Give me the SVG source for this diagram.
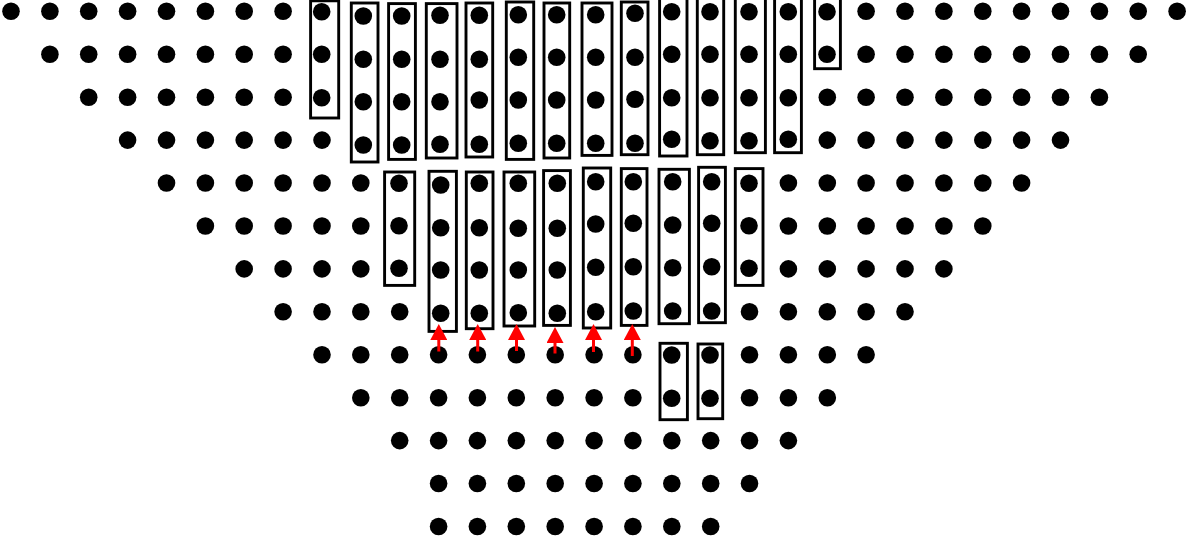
<svg xmlns="http://www.w3.org/2000/svg" width="1188" height="541" viewBox="0 0 1188 541">
<style>
.d{fill:#000}
.b{fill:none;stroke:#000;stroke-width:2.9}
.a{stroke:#ff0000;stroke-width:3;fill:none;marker-end:url(#ah)}
</style>
<defs>
<marker id="ah" markerUnits="userSpaceOnUse" markerWidth="16" markerHeight="17" viewBox="0 0 16 17" refX="1" refY="8.5" orient="auto"><path d="M0,0 L16,8.5 L0,17 z" fill="#ff0000"/></marker>
</defs>
<rect width="1188" height="541" fill="#fff"/>
<g id="grid-dots">
<!-- row 0 -->
<circle class="d" r="8.8" cx="11" cy="11.3"/><circle class="d" r="8.8" cx="49.9" cy="11.3"/><circle class="d" r="8.8" cx="88.7" cy="11.3"/><circle class="d" r="8.8" cx="127.6" cy="11.3"/><circle class="d" r="8.8" cx="166.5" cy="11.3"/><circle class="d" r="8.8" cx="205.4" cy="11.3"/><circle class="d" r="8.8" cx="244.2" cy="11.3"/><circle class="d" r="8.8" cx="283.1" cy="11.3"/>
<circle class="d" r="8.8" cx="866.1" cy="11.3"/><circle class="d" r="8.8" cx="905" cy="11.3"/><circle class="d" r="8.8" cx="943.9" cy="11.3"/><circle class="d" r="8.8" cx="982.8" cy="11.3"/><circle class="d" r="8.8" cx="1021.6" cy="11.3"/><circle class="d" r="8.8" cx="1060.5" cy="11.3"/><circle class="d" r="8.8" cx="1099.4" cy="11.3"/><circle class="d" r="8.8" cx="1138.2" cy="11.3"/><circle class="d" r="8.8" cx="1177.1" cy="11.3"/>
<!-- row 1 -->
<circle class="d" r="8.8" cx="49.9" cy="54.2"/><circle class="d" r="8.8" cx="88.7" cy="54.2"/><circle class="d" r="8.8" cx="127.6" cy="54.2"/><circle class="d" r="8.8" cx="166.5" cy="54.2"/><circle class="d" r="8.8" cx="205.4" cy="54.2"/><circle class="d" r="8.8" cx="244.2" cy="54.2"/><circle class="d" r="8.8" cx="283.1" cy="54.2"/>
<circle class="d" r="8.8" cx="866.1" cy="54.2"/><circle class="d" r="8.8" cx="905" cy="54.2"/><circle class="d" r="8.8" cx="943.9" cy="54.2"/><circle class="d" r="8.8" cx="982.8" cy="54.2"/><circle class="d" r="8.8" cx="1021.6" cy="54.2"/><circle class="d" r="8.8" cx="1060.5" cy="54.2"/><circle class="d" r="8.8" cx="1099.4" cy="54.2"/><circle class="d" r="8.8" cx="1138.2" cy="54.2"/>
<!-- row 2 -->
<circle class="d" r="8.8" cx="88.7" cy="97.2"/><circle class="d" r="8.8" cx="127.6" cy="97.2"/><circle class="d" r="8.8" cx="166.5" cy="97.2"/><circle class="d" r="8.8" cx="205.4" cy="97.2"/><circle class="d" r="8.8" cx="244.2" cy="97.2"/><circle class="d" r="8.8" cx="283.1" cy="97.2"/>
<circle class="d" r="8.8" cx="827.3" cy="97.2"/><circle class="d" r="8.8" cx="866.1" cy="97.2"/><circle class="d" r="8.8" cx="905" cy="97.2"/><circle class="d" r="8.8" cx="943.9" cy="97.2"/><circle class="d" r="8.8" cx="982.8" cy="97.2"/><circle class="d" r="8.8" cx="1021.6" cy="97.2"/><circle class="d" r="8.8" cx="1060.5" cy="97.2"/><circle class="d" r="8.8" cx="1099.4" cy="97.2"/>
<!-- row 3 -->
<circle class="d" r="8.8" cx="127.6" cy="140.1"/><circle class="d" r="8.8" cx="166.5" cy="140.1"/><circle class="d" r="8.8" cx="205.4" cy="140.1"/><circle class="d" r="8.8" cx="244.2" cy="140.1"/><circle class="d" r="8.8" cx="283.1" cy="140.1"/><circle class="d" r="8.8" cx="322" cy="140.1"/>
<circle class="d" r="8.8" cx="827.3" cy="140.1"/><circle class="d" r="8.8" cx="866.1" cy="140.1"/><circle class="d" r="8.8" cx="905" cy="140.1"/><circle class="d" r="8.8" cx="943.9" cy="140.1"/><circle class="d" r="8.8" cx="982.8" cy="140.1"/><circle class="d" r="8.8" cx="1021.6" cy="140.1"/><circle class="d" r="8.8" cx="1060.5" cy="140.1"/>
<!-- row 4 -->
<circle class="d" r="8.8" cx="166.5" cy="183"/><circle class="d" r="8.8" cx="205.4" cy="183"/><circle class="d" r="8.8" cx="244.2" cy="183"/><circle class="d" r="8.8" cx="283.1" cy="183"/><circle class="d" r="8.8" cx="322" cy="183"/><circle class="d" r="8.8" cx="360.8" cy="183"/>
<circle class="d" r="8.8" cx="788.4" cy="183"/><circle class="d" r="8.8" cx="827.3" cy="183"/><circle class="d" r="8.8" cx="866.1" cy="183"/><circle class="d" r="8.8" cx="905" cy="183"/><circle class="d" r="8.8" cx="943.9" cy="183"/><circle class="d" r="8.8" cx="982.8" cy="183"/><circle class="d" r="8.8" cx="1021.6" cy="183"/>
<!-- row 5 -->
<circle class="d" r="8.8" cx="205.4" cy="226"/><circle class="d" r="8.8" cx="244.2" cy="226"/><circle class="d" r="8.8" cx="283.1" cy="226"/><circle class="d" r="8.8" cx="322" cy="226"/><circle class="d" r="8.8" cx="360.8" cy="226"/>
<circle class="d" r="8.8" cx="788.4" cy="226"/><circle class="d" r="8.8" cx="827.3" cy="226"/><circle class="d" r="8.8" cx="866.1" cy="226"/><circle class="d" r="8.8" cx="905" cy="226"/><circle class="d" r="8.8" cx="943.9" cy="226"/><circle class="d" r="8.8" cx="982.8" cy="226"/>
<!-- row 6 -->
<circle class="d" r="8.8" cx="244.2" cy="268.9"/><circle class="d" r="8.8" cx="283.1" cy="268.9"/><circle class="d" r="8.8" cx="322" cy="268.9"/><circle class="d" r="8.8" cx="360.8" cy="268.9"/>
<circle class="d" r="8.8" cx="788.4" cy="268.9"/><circle class="d" r="8.8" cx="827.3" cy="268.9"/><circle class="d" r="8.8" cx="866.1" cy="268.9"/><circle class="d" r="8.8" cx="905" cy="268.9"/><circle class="d" r="8.8" cx="943.9" cy="268.9"/>
<!-- row 7 -->
<circle class="d" r="8.8" cx="283.1" cy="311.8"/><circle class="d" r="8.8" cx="322" cy="311.8"/><circle class="d" r="8.8" cx="360.8" cy="311.8"/><circle class="d" r="8.8" cx="399.7" cy="311.8"/>
<circle class="d" r="8.8" cx="749.5" cy="311.8"/><circle class="d" r="8.8" cx="788.4" cy="311.8"/><circle class="d" r="8.8" cx="827.3" cy="311.8"/><circle class="d" r="8.8" cx="866.1" cy="311.8"/><circle class="d" r="8.8" cx="905" cy="311.8"/>
<!-- row 8 -->
<circle class="d" r="8.8" cx="322" cy="354.7"/><circle class="d" r="8.8" cx="360.8" cy="354.7"/><circle class="d" r="8.8" cx="399.7" cy="354.7"/><circle class="d" r="8.8" cx="438.6" cy="354.7"/><circle class="d" r="8.8" cx="477.4" cy="354.7"/><circle class="d" r="8.8" cx="516.3" cy="354.7"/><circle class="d" r="8.8" cx="555.2" cy="354.7"/><circle class="d" r="8.8" cx="594.1" cy="354.7"/><circle class="d" r="8.8" cx="632.9" cy="354.7"/>
<circle class="d" r="8.8" cx="749.5" cy="354.7"/><circle class="d" r="8.8" cx="788.4" cy="354.7"/><circle class="d" r="8.8" cx="827.3" cy="354.7"/><circle class="d" r="8.8" cx="866.1" cy="354.7"/>
<!-- row 9 -->
<circle class="d" r="8.8" cx="360.8" cy="397.7"/><circle class="d" r="8.8" cx="399.7" cy="397.7"/><circle class="d" r="8.8" cx="438.6" cy="397.7"/><circle class="d" r="8.8" cx="477.4" cy="397.7"/><circle class="d" r="8.8" cx="516.3" cy="397.7"/><circle class="d" r="8.8" cx="555.2" cy="397.7"/><circle class="d" r="8.8" cx="594.1" cy="397.7"/><circle class="d" r="8.8" cx="632.9" cy="397.7"/>
<circle class="d" r="8.8" cx="749.5" cy="397.7"/><circle class="d" r="8.8" cx="788.4" cy="397.7"/><circle class="d" r="8.8" cx="827.3" cy="397.7"/>
<!-- row 10 -->
<circle class="d" r="8.8" cx="399.7" cy="440.6"/><circle class="d" r="8.8" cx="438.6" cy="440.6"/><circle class="d" r="8.8" cx="477.4" cy="440.6"/><circle class="d" r="8.8" cx="516.3" cy="440.6"/><circle class="d" r="8.8" cx="555.2" cy="440.6"/><circle class="d" r="8.8" cx="594.1" cy="440.6"/><circle class="d" r="8.8" cx="632.9" cy="440.6"/><circle class="d" r="8.8" cx="671.8" cy="440.6"/><circle class="d" r="8.8" cx="710.7" cy="440.6"/><circle class="d" r="8.8" cx="749.5" cy="440.6"/><circle class="d" r="8.8" cx="788.4" cy="440.6"/>
<!-- row 11 -->
<circle class="d" r="8.8" cx="438.6" cy="483.5"/><circle class="d" r="8.8" cx="477.4" cy="483.5"/><circle class="d" r="8.8" cx="516.3" cy="483.5"/><circle class="d" r="8.8" cx="555.2" cy="483.5"/><circle class="d" r="8.8" cx="594.1" cy="483.5"/><circle class="d" r="8.8" cx="632.9" cy="483.5"/><circle class="d" r="8.8" cx="671.8" cy="483.5"/><circle class="d" r="8.8" cx="710.7" cy="483.5"/><circle class="d" r="8.8" cx="749.5" cy="483.5"/>
<!-- row 12 -->
<circle class="d" r="8.8" cx="438.6" cy="526.5"/><circle class="d" r="8.8" cx="477.4" cy="526.5"/><circle class="d" r="8.8" cx="516.3" cy="526.5"/><circle class="d" r="8.8" cx="555.2" cy="526.5"/><circle class="d" r="8.8" cx="594.1" cy="526.5"/><circle class="d" r="8.8" cx="632.9" cy="526.5"/><circle class="d" r="8.8" cx="671.8" cy="526.5"/><circle class="d" r="8.8" cx="710.7" cy="526.5"/>
</g>

<!-- top group boxes -->
<g id="top-c8"><rect class="b" x="310.6" y="0.8" width="28.1" height="117.2"/><circle class="d" r="8.8" cx="321.7" cy="11.7"/><circle class="d" r="8.8" cx="321.7" cy="54.3"/><circle class="d" r="8.8" cx="321.7" cy="97.7"/></g>
<g id="top-c9"><rect class="b" x="351.3" y="3" width="26.7" height="159"/><circle class="d" r="8.8" cx="363.3" cy="16"/><circle class="d" r="8.8" cx="363.3" cy="59.3"/><circle class="d" r="8.8" cx="363.3" cy="101.7"/><circle class="d" r="8.8" cx="363.3" cy="145"/></g>
<g id="top-c10"><rect class="b" x="388.6" y="3.6" width="26.8" height="155.8"/><circle class="d" r="8.8" cx="401.7" cy="16"/><circle class="d" r="8.8" cx="401.7" cy="59.3"/><circle class="d" r="8.8" cx="401.7" cy="101.7"/><circle class="d" r="8.8" cx="401.7" cy="145"/></g>
<g id="top-c11"><rect class="b" x="426.3" y="3.6" width="30.7" height="154.4"/><circle class="d" r="8.8" cx="440" cy="15.3"/><circle class="d" r="8.8" cx="440" cy="59.3"/><circle class="d" r="8.8" cx="440" cy="101.7"/><circle class="d" r="8.8" cx="440" cy="144.3"/></g>
<g id="top-c12"><rect class="b" x="466" y="3" width="26.7" height="154"/><circle class="d" r="8.8" cx="479.3" cy="15.3"/><circle class="d" r="8.8" cx="479.3" cy="59.3"/><circle class="d" r="8.8" cx="479.3" cy="100"/><circle class="d" r="8.8" cx="479.3" cy="144.3"/></g>
<g id="top-c13"><rect class="b" x="506.3" y="2" width="27.4" height="157.4"/><circle class="d" r="8.8" cx="518.3" cy="14.7"/><circle class="d" r="8.8" cx="518.3" cy="57.3"/><circle class="d" r="8.8" cx="518.3" cy="100"/><circle class="d" r="8.8" cx="518.3" cy="143.3"/></g>
<g id="top-c14"><rect class="b" x="544" y="3" width="25.7" height="155"/><circle class="d" r="8.8" cx="556.7" cy="14.7"/><circle class="d" r="8.8" cx="556.7" cy="57.3"/><circle class="d" r="8.8" cx="556.7" cy="100"/><circle class="d" r="8.8" cx="556.7" cy="143.3"/></g>
<g id="top-c15"><rect class="b" x="582" y="3" width="30" height="152.4"/><circle class="d" r="8.8" cx="595.7" cy="14.7"/><circle class="d" r="8.8" cx="595.7" cy="57.3"/><circle class="d" r="8.8" cx="595.7" cy="100"/><circle class="d" r="8.8" cx="595.7" cy="143.3"/></g>
<g id="top-c16"><rect class="b" x="621.3" y="2" width="26.7" height="152.7"/><circle class="d" r="8.8" cx="635" cy="13.3"/><circle class="d" r="8.8" cx="635" cy="57.3"/><circle class="d" r="8.8" cx="635" cy="99.3"/><circle class="d" r="8.8" cx="635" cy="143.3"/></g>
<g id="top-c17"><rect class="b" x="659.6" y="-5" width="27.4" height="161"/><circle class="d" r="8.8" cx="671.7" cy="11.7"/><circle class="d" r="8.8" cx="671.7" cy="54.3"/><circle class="d" r="8.8" cx="671.7" cy="97.7"/><circle class="d" r="8.8" cx="671.7" cy="139.3"/></g>
<g id="top-c18"><rect class="b" x="697.3" y="-5" width="26.4" height="159.7"/><circle class="d" r="8.8" cx="710" cy="11.7"/><circle class="d" r="8.8" cx="710" cy="54.3"/><circle class="d" r="8.8" cx="710" cy="97.7"/><circle class="d" r="8.8" cx="710" cy="140.7"/></g>
<g id="top-c19"><rect class="b" x="735.3" y="-5" width="30.1" height="157.7"/><circle class="d" r="8.8" cx="749" cy="11.7"/><circle class="d" r="8.8" cx="749" cy="54.3"/><circle class="d" r="8.8" cx="749" cy="97.7"/><circle class="d" r="8.8" cx="749" cy="140.7"/></g>
<g id="top-c20"><rect class="b" x="774.6" y="-5" width="26.8" height="157.7"/><circle class="d" r="8.8" cx="788.3" cy="11.7"/><circle class="d" r="8.8" cx="788.3" cy="54.3"/><circle class="d" r="8.8" cx="788.3" cy="97.7"/><circle class="d" r="8.8" cx="788.3" cy="139.3"/></g>
<g id="top-c21"><rect class="b" x="814.6" y="-5" width="25.8" height="73.7"/><circle class="d" r="8.8" cx="827" cy="11.7"/><circle class="d" r="8.8" cx="827" cy="54.3"/></g>

<!-- middle group boxes -->
<g id="mid-c10"><rect class="b" x="384.6" y="172" width="30.1" height="113.4"/><circle class="d" r="8.8" cx="399" cy="183.3"/><circle class="d" r="8.8" cx="399" cy="225.7"/><circle class="d" r="8.8" cx="399" cy="268.3"/></g>
<g id="mid-c11"><rect class="b" x="429" y="171.3" width="27.4" height="160.1"/><circle class="d" r="8.8" cx="440.7" cy="185"/><circle class="d" r="8.8" cx="440.7" cy="227.7"/><circle class="d" r="8.8" cx="440.7" cy="270"/><circle class="d" r="8.8" cx="440.7" cy="313.3"/></g>
<g id="mid-c12"><rect class="b" x="466.3" y="172" width="26.7" height="156.7"/><circle class="d" r="8.8" cx="479.3" cy="183.3"/><circle class="d" r="8.8" cx="479.3" cy="227.7"/><circle class="d" r="8.8" cx="479.3" cy="270"/><circle class="d" r="8.8" cx="479.3" cy="313.3"/></g>
<g id="mid-c13"><rect class="b" x="504" y="172" width="30.7" height="154"/><circle class="d" r="8.8" cx="518.3" cy="183.3"/><circle class="d" r="8.8" cx="518.3" cy="228.3"/><circle class="d" r="8.8" cx="518.3" cy="270"/><circle class="d" r="8.8" cx="518.3" cy="312.7"/></g>
<g id="mid-c14"><rect class="b" x="543.6" y="170.6" width="26.8" height="154.8"/><circle class="d" r="8.8" cx="557.3" cy="183.3"/><circle class="d" r="8.8" cx="557.3" cy="228.3"/><circle class="d" r="8.8" cx="557.3" cy="270"/><circle class="d" r="8.8" cx="557.3" cy="313.3"/></g>
<g id="mid-c15"><rect class="b" x="583.3" y="168" width="27.4" height="160"/><circle class="d" r="8.8" cx="595.7" cy="181.7"/><circle class="d" r="8.8" cx="595.7" cy="224"/><circle class="d" r="8.8" cx="595.7" cy="267.3"/><circle class="d" r="8.8" cx="595.7" cy="311.7"/></g>
<g id="mid-c16"><rect class="b" x="621.3" y="168.6" width="25.7" height="156.8"/><circle class="d" r="8.8" cx="633.3" cy="181.7"/><circle class="d" r="8.8" cx="633.3" cy="223.3"/><circle class="d" r="8.8" cx="633.3" cy="266.7"/><circle class="d" r="8.8" cx="633.3" cy="311"/></g>
<g id="mid-c17"><rect class="b" x="659" y="169.3" width="30.4" height="154.4"/><circle class="d" r="8.8" cx="672.7" cy="181.7"/><circle class="d" r="8.8" cx="672.7" cy="225"/><circle class="d" r="8.8" cx="672.7" cy="267.7"/><circle class="d" r="8.8" cx="672.7" cy="311"/></g>
<g id="mid-c18"><rect class="b" x="698.6" y="167.3" width="26.8" height="155.4"/><circle class="d" r="8.8" cx="711.7" cy="181.7"/><circle class="d" r="8.8" cx="711.7" cy="223.3"/><circle class="d" r="8.8" cx="711.7" cy="266.7"/><circle class="d" r="8.8" cx="711.7" cy="311"/></g>
<g id="mid-c19"><rect class="b" x="735.3" y="168.6" width="27.7" height="116.8"/><circle class="d" r="8.8" cx="749" cy="183.3"/><circle class="d" r="8.8" cx="749" cy="225.7"/><circle class="d" r="8.8" cx="749" cy="268.3"/></g>

<!-- bottom group boxes -->
<g id="bot-c17"><rect class="b" x="660" y="343.3" width="27.4" height="76.4"/><circle class="d" r="8.8" cx="671.7" cy="355"/><circle class="d" r="8.8" cx="671.7" cy="398.3"/></g>
<g id="bot-c18"><rect class="b" x="698" y="344" width="24.7" height="74.7"/><circle class="d" r="8.8" cx="710" cy="355"/><circle class="d" r="8.8" cx="710" cy="398.3"/></g>

<g id="connectors">
<line class="a" x1="438.8" y1="351.5" x2="438.8" y2="339"/>
<line class="a" x1="477.7" y1="351.5" x2="477.7" y2="339"/>
<line class="a" x1="516.5" y1="351" x2="516.5" y2="339"/>
<line class="a" x1="555" y1="353.5" x2="555" y2="342"/>
<line class="a" x1="593.5" y1="352" x2="593.5" y2="339"/>
<line class="a" x1="632.3" y1="356" x2="632.3" y2="339"/>
</g>
</svg>
